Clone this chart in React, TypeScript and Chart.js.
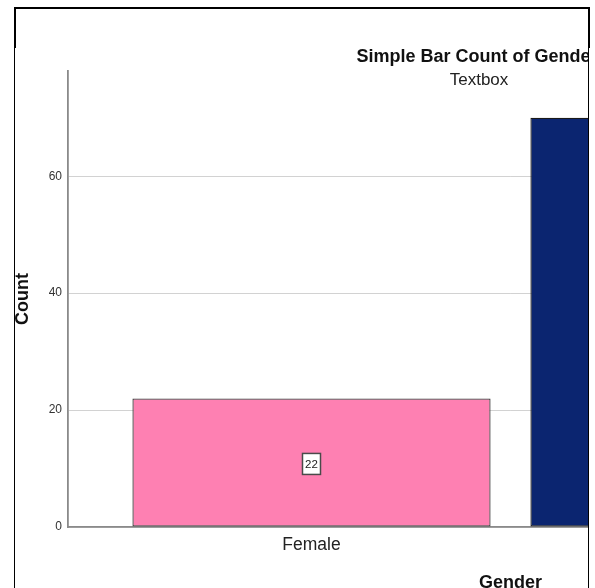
import React, { useEffect, useRef } from "react";
import { Chart, registerables } from "chart.js";

Chart.register(...registerables);

const categories = ["Female", "Male"];
const counts = [22, 70];
const barColors = ["#FE80B2", "#0B2570"];
const yTicks = [0, 20, 40, 60];
const titleText = "Simple Bar Count of Gender";
const subtitleText = "Textbox";
const xTitle = "Gender";
const yTitle = "Count";

const FONT = "'Liberation Sans', Arial, Helvetica, sans-serif";

const labelPlugin = {
  id: "boxLabels",
  afterDatasetsDraw(chart: any) {
    const ctx = chart.ctx;
    const meta = chart.getDatasetMeta(0);
    ctx.save();
    meta.data.forEach((bar: any, i: number) => {
      const { x, y, base } = bar.getProps(["x", "y", "base"], true);
      const cy = (y + base) / 2 + 1.5;
      const w = 18;
      const h = 21;
      ctx.fillStyle = "#ffffff";
      ctx.fillRect(x - w / 2, cy - h / 2, w, h);
      ctx.strokeStyle = "#4a4a4a";
      ctx.lineWidth = 1.5;
      ctx.strokeRect(x - w / 2, cy - h / 2, w, h);
      ctx.fillStyle = "#222222";
      ctx.font = `11.5px ${FONT}`;
      ctx.textAlign = "center";
      ctx.textBaseline = "middle";
      ctx.fillText(String(counts[i]), x, cy + 0.5);
    });
    ctx.restore();
  },
};

const titlePlugin = {
  id: "overlayTitle",
  afterDraw(chart: any) {
    const ctx = chart.ctx;
    ctx.save();
    ctx.textAlign = "center";
    ctx.textBaseline = "middle";
    ctx.fillStyle = "#111111";
    ctx.font = `bold 18px ${FONT}`;
    ctx.fillText(titleText, 477, 57);
    ctx.fillStyle = "#222222";
    ctx.font = `17px ${FONT}`;
    ctx.fillText(subtitleText, 479, 80);
    ctx.restore();
  },
};

export default function App() {
  const ref = useRef<HTMLCanvasElement | null>(null);

  useEffect(() => {
    if (!ref.current) return;
    const chart = new Chart(ref.current, {
      type: "bar",
      data: {
        datasets: [
          {
            data: counts.map((c, i) => ({ x: i, y: c })),
            backgroundColor: barColors,
            borderColor: ["#3f3f3f", "#1a1a1a"],
            borderWidth: 1.3,
            borderSkipped: false,
            categoryPercentage: 0.9,
            barPercentage: 1,
          },
        ],
      },
      options: {
        animation: false,
        responsive: false,
        maintainAspectRatio: false,
        layout: { padding: { left: 0, top: 71, right: 47, bottom: 13 } },
        plugins: {
          legend: { display: false },
          tooltip: { enabled: false },
          title: { display: false },
        },
        scales: {
          x: {
            type: "linear",
            offset: false,
            min: -0.6118,
            max: 1.6118,
            afterBuildTicks: (axis: any) => {
              axis.ticks = categories.map((_, i) => ({ value: i }));
            },
            afterFit: (s: any) => {
              s.height = 80;
            },
            grid: { display: false, drawTicks: false, offset: false },
            border: { display: true, color: "#8a8a8a", width: 1.8 },
            ticks: {
              padding: 7.5,
              color: "#222222",
              font: { family: FONT, size: 17.5 },
              maxRotation: 0,
              autoSkip: false,
              callback: (v: any) => categories[v] ?? "",
            },
            title: {
              display: true,
              text: xTitle,
              color: "#111111",
              font: { family: FONT, size: 18, weight: "bold" },
              padding: { top: 0, bottom: 12.8 },
            },
          },
          y: {
            min: 0,
            max: 78,
            afterFit: (s: any) => {
              s.width = 68;
            },
            afterBuildTicks: (axis: any) => {
              axis.ticks = yTicks.map((v) => ({ value: v }));
            },
            grid: { color: "#d2d2d2", lineWidth: 1, drawTicks: false },
            border: { display: true, color: "#8a8a8a", width: 1.8 },
            ticks: {
              padding: 6,
              color: "#333333",
              font: { family: FONT, size: 12 },
            },
            title: {
              display: true,
              text: yTitle,
              color: "#111111",
              font: { family: FONT, size: 18, weight: "bold" },
              padding: { top: 12, bottom: 0 },
            },
          },
        },
      },
      plugins: [labelPlugin, titlePlugin],
    } as any);
    return () => chart.destroy();
  }, []);

  return (
    <div
      style={{
        position: "absolute",
        left: 0,
        top: 0,
        width: 595,
        height: 588,
        overflow: "hidden",
        background: "#ffffff",
      }}
    >
      <div
        style={{
          position: "absolute",
          left: 15,
          top: 48,
          width: 573,
          height: 540,
          overflow: "hidden",
        }}
      >
        <canvas
          ref={ref}
          width={1000}
          height={620}
          style={{ position: "absolute", left: -15, top: -48, width: 1000, height: 620 }}
        />
      </div>
      <div style={{ position: "absolute", left: 14, top: 7, width: 576, height: 2, background: "#000" }} />
      <div style={{ position: "absolute", left: 14, top: 7, width: 2, height: 41, background: "#000" }} />
      <div style={{ position: "absolute", left: 588, top: 7, width: 2, height: 41, background: "#000" }} />
      <div style={{ position: "absolute", left: 14, top: 48, width: 1, height: 540, background: "#000" }} />
      <div style={{ position: "absolute", left: 588, top: 48, width: 1, height: 540, background: "#000" }} />
    </div>
  );
}
